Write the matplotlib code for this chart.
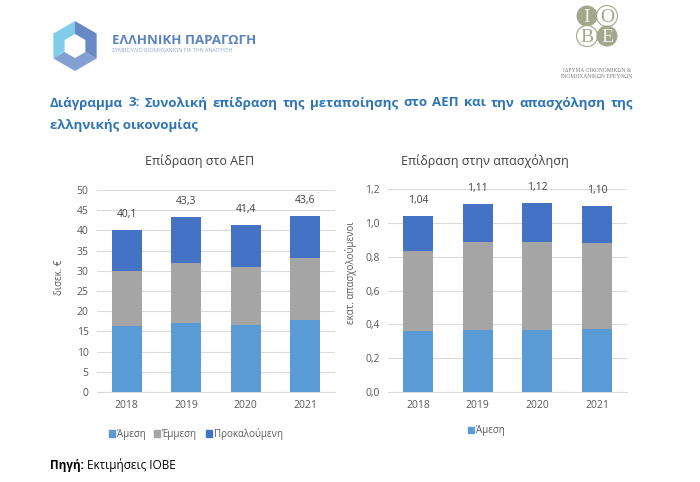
import matplotlib.pyplot as plt
from matplotlib.patches import Circle, Polygon, Patch
import numpy as np

plt.rcParams['font.family'] = ['Open Sans', 'DejaVu Sans']

years = ['2018', '2019', '2020', '2021']

# GDP impact, bn EUR
gdp_direct = [16.4, 17.0, 16.6, 17.9]
gdp_indirect = [13.6, 15.0, 14.3, 15.3]
gdp_induced = [10.1, 11.3, 10.5, 10.4]

# employment impact, mn employed
emp_direct = [0.362, 0.366, 0.366, 0.374]
emp_indirect = [0.474, 0.521, 0.521, 0.509]
emp_induced = [0.204, 0.223, 0.233, 0.217]

series_names = ['Άμεση', 'Έμμεση', 'Προκαλούμενη']
colors = ['#5B9BD5', '#A5A5A5', '#4472C4']

title_line1 = 'Διάγραμμα 3: Συνολική επίδραση της μεταποίησης στο ΑΕΠ και την απασχόληση της'
title_line2 = 'ελληνικής οικονομίας'

W, H = 700, 482
fig = plt.figure(figsize=(7, 4.82), dpi=100)
fig.patch.set_facecolor('white')

# overlay in pixel coords for logos and text
deco = fig.add_axes([0, 0, 1, 1])
deco.set_xlim(0, W)
deco.set_ylim(H, 0)
deco.axis('off')


def px_axes(x0, y0, x1, y1):
    return fig.add_axes([x0 / W, (H - y1) / H, (x1 - x0) / W, (y1 - y0) / H])


def stacked(ax, parts, ymax, step, fmt):
    x = np.arange(len(years))
    bottom = np.zeros(len(years))
    for vals, c in zip(parts, colors):
        ax.bar(x, vals, 0.5, bottom=bottom, color=c, zorder=3)
        bottom = bottom + np.array(vals)
    for xi, tot in zip(x, bottom):
        ax.annotate(fmt(tot), (xi, tot), xytext=(0, 11), textcoords='offset points',
                    ha='center', va='center', fontsize=7.5, color='#404040')
    ax.set_xlim(-0.5, 3.5)
    ax.set_ylim(0, ymax)
    ax.set_yticks(np.arange(0, ymax + step / 2, step))
    ax.set_xticks(x)
    ax.set_xticklabels(years)
    ax.grid(axis='y', color='#D9D9D9', linewidth=0.8, zorder=0)
    for s in ['top', 'right', 'left']:
        ax.spines[s].set_visible(False)
    ax.spines['bottom'].set_color('#D9D9D9')
    ax.tick_params(length=0, labelsize=7.5, labelcolor='#595959', pad=6)


ax1 = px_axes(97, 190, 335, 392)
stacked(ax1, [gdp_direct, gdp_indirect, gdp_induced], 50, 5,
        lambda v: f'{v:.1f}'.replace('.', ','))

ax2 = px_axes(388, 189, 627, 392)
stacked(ax2, [emp_direct, emp_indirect, emp_induced], 1.2, 0.2,
        lambda v: f'{v:.2f}'.replace('.', ','))
ax2.set_yticklabels([f'{v:.1f}'.replace('.', ',') for v in np.arange(0, 1.21, 0.2)])

# chart titles and axis titles (centred on the chart area like Excel)
deco.text(200, 161, 'Επίδραση στο ΑΕΠ', fontsize=9, color='#404040', ha='center', va='center')
deco.text(485, 161, 'Επίδραση στην απασχόληση', fontsize=9, color='#404040',
          ha='center', va='center')
deco.text(60, 277, 'δισεκ. €', fontsize=7, color='#595959', rotation=90,
          ha='center', va='center')
deco.text(351, 273, 'εκατ. απασχολούμενοι', fontsize=7, color='#595959', rotation=90,
          ha='center', va='center')

handles = [Patch(color=c) for c in colors]
leg_kw = dict(frameon=False, fontsize=7, handlelength=0.6, handleheight=0.6,
              handletextpad=0.2, columnspacing=0.9, labelcolor='#595959')
ax1.legend(handles, series_names, loc='center', ncol=3, bbox_to_anchor=(196, 434),
           bbox_transform=deco.transData, **leg_kw)
ax2.legend(handles[:1], series_names[:1], loc='center', ncol=1, bbox_to_anchor=(486, 431),
           bbox_transform=deco.transData, **leg_kw)

# main title, first line justified
blue = '#2E75B6'
renderer = fig.canvas.get_renderer()
words = title_line1.split(' ')
tmp = [deco.text(0, 0, w, fontsize=9.5, fontweight='bold', color=blue) for w in words]
widths = [t.get_window_extent(renderer).width for t in tmp]
for t in tmp:
    t.remove()
x_left, x_right = 50, 633
gap = (x_right - x_left - sum(widths)) / (len(words) - 1)
xpos = x_left
for w, wd in zip(words, widths):
    deco.text(xpos, 103, w, fontsize=9.5, fontweight='bold', color=blue, va='center')
    xpos += wd + gap
deco.text(x_left, 125, title_line2, fontsize=9.5, fontweight='bold', color=blue, va='center')

# source
src = deco.text(50, 465, 'Πηγή:', fontsize=8.5, fontweight='bold', color='black', va='center')
sw = src.get_window_extent(renderer).width
deco.text(50 + sw + 3, 465, 'Εκτιμήσεις ΙΟΒΕ', fontsize=8.5, color='black', va='center')

# left logo: hexagon ring in three pieces
cx, cy, r, ri = 75, 46, 25, 12
ang = np.deg2rad(np.array([90, 150, 210, 270, 330, 30]))
outer = np.c_[cx + r * np.cos(ang), cy - r * np.sin(ang)]
inner = np.c_[cx + ri * np.cos(ang), cy - ri * np.sin(ang)]
piece_cols = ['#6CC4E8', '#6F8FCB', '#4F74BC']
for k, pc in enumerate(piece_cols):
    i0, i1, i2 = (2 * k) % 6, (2 * k + 1) % 6, (2 * k + 2) % 6
    pts = [outer[i0], outer[i1], outer[i2], inner[i2], inner[i1], inner[i0]]
    deco.add_patch(Polygon(pts, closed=True, color=pc, alpha=0.85, lw=0))
deco.text(112, 41, 'ΕΛΛΗΝΙΚΗ ΠΑΡΑΓΩΓΗ', fontsize=9.5, fontweight='bold',
          color='#5B82C2', va='center')
deco.text(112, 51, 'ΣΥΜΒΟΥΛΙΟ ΒΙΟΜΗΧΑΝΙΩΝ ΓΙΑ ΤΗΝ ΑΝΑΠΤΥΞΗ', fontsize=3.9,
          color='#8FA6CC', va='center')

# IOBE logo
olive = '#A3A88C'
for (lx, ly), letter, filled in [((587, 16), 'I', True), ((607, 16), 'O', False),
                                 ((587, 36), 'B', False), ((607, 36), 'E', True)]:
    if filled:
        deco.add_patch(Circle((lx, ly), 10.5, color=olive, lw=0))
        tc = '#F2F2EA'
    else:
        deco.add_patch(Circle((lx, ly), 10.5, facecolor='white', edgecolor=olive, lw=0.8))
        tc = olive
    deco.text(lx, ly + 1, letter, fontsize=14, family='Liberation Serif', color=tc,
              ha='center', va='center')
deco.text(597, 70, 'ΙΔΡΥΜΑ ΟΙΚΟΝΟΜΙΚΩΝ &', fontsize=4, family='Liberation Serif',
          color='#777777', ha='center', va='center')
deco.text(597, 77, 'ΒΙΟΜΗΧΑΝΙΚΩΝ ΕΡΕΥΝΩΝ', fontsize=4, family='Liberation Serif',
          color='#777777', ha='center', va='center')

fig.savefig('out.png', dpi=100)
